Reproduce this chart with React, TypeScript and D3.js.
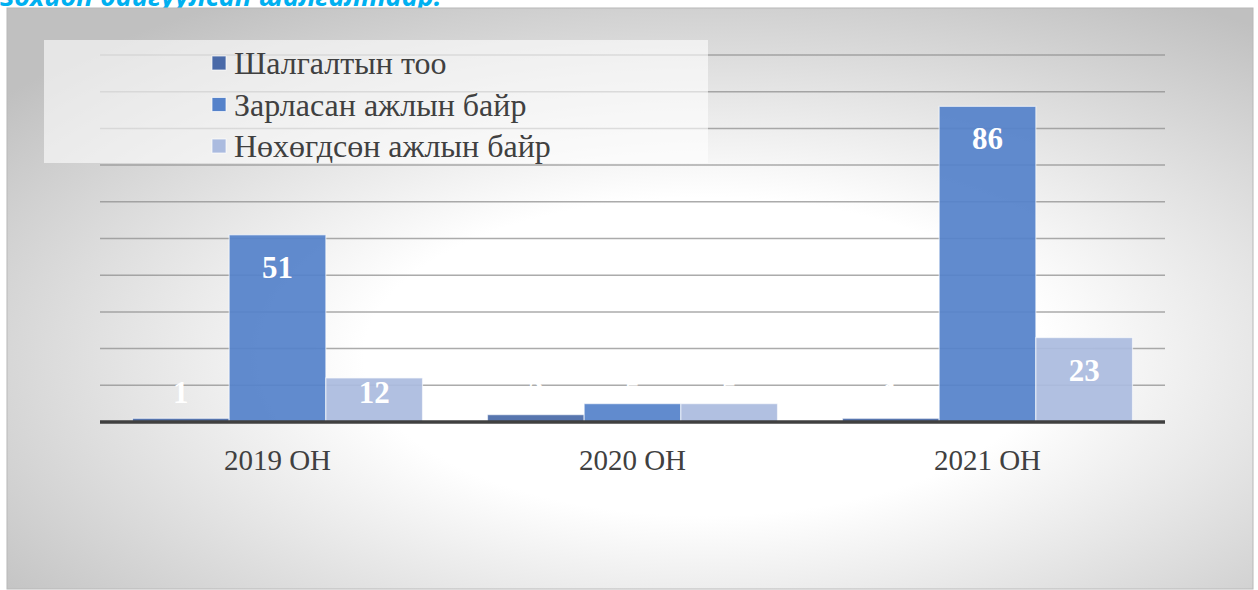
import React from "react";
import * as d3 from "d3";

const categories = ["2019 ОН", "2020 ОН", "2021 ОН"];
const seriesNames = ["Шалгалтын тоо", "Зарласан ажлын байр", "Нөхөгдсөн ажлын байр"];
const examCount = [1, 2, 1];
const announcedJobs = [51, 5, 86];
const filledJobs = [12, 5, 23];
const seriesColors = ["#4a6aa8", "#5582ca", "#abbbdf"];
const yTicks = [10, 20, 30, 40, 50, 60, 70, 80, 90, 100];
const titleText = "зохион байгуулсан шалгалтаар.";

const W = 1258;
const H = 590;

export default function App() {
  const seriesValues = [examCount, announcedJobs, filledJobs];
  const x0 = d3.scaleBand<string>().domain(categories).range([100, 1165]).paddingInner(0.183).paddingOuter(0.0915);
  const x1 = d3.scaleBand<string>().domain(seriesNames).range([0, x0.bandwidth()]).padding(0);
  const y = d3.scaleLinear().domain([0, 100]).range([422, 55]);
  const serif = "'Liberation Serif', 'Times New Roman', serif";

  return (
    <svg width={W} height={H} style={{ position: "absolute", left: 0, top: 0, background: "#fff" }}>
      <defs>
        <radialGradient id="bg" cx="0.56" cy="0.6" r="0.72">
          <stop offset="0" stopColor="#ffffff" />
          <stop offset="0.38" stopColor="#ffffff" />
          <stop offset="1" stopColor="#c0c0c0" />
        </radialGradient>
      </defs>
      <text x={0} y={6} fontFamily="'Open Sans', sans-serif" fontWeight="bold" fontStyle="italic" fontSize={27} fill="#00b0f0">
        {titleText}
      </text>
      <rect x={7} y={8} width={1246} height={581} fill="url(#bg)" stroke="#b8b8b8" strokeWidth={1} />
      {yTicks.map((t) => (
        <line key={t} x1={100} x2={1165} y1={y(t)} y2={y(t)} stroke="#8f8f8f" strokeOpacity={0.75} strokeWidth={1.5} />
      ))}
      <rect x={44} y={40} width={664} height={123} fill="#ffffff" fillOpacity={0.6} />
      {categories.map((c, ci) => (
        <g key={c}>
          {seriesNames.map((s, si) => {
            const v = seriesValues[si][ci];
            const bx = (x0(c) as number) + (x1(s) as number);
            const by = y(v);
            const bw = x1.bandwidth();
            const labelCenter = Math.min(by + 32, 392);
            return (
              <g key={s}>
                <rect x={bx} y={by} width={bw} height={y(0) - by} fill={seriesColors[si]} fillOpacity={0.93} stroke="#ffffff" strokeOpacity={0.6} strokeWidth={1.2} />
                <text x={bx + bw / 2} y={labelCenter + 11} textAnchor="middle" fontFamily={serif} fontWeight="bold" fontSize={31} fill="#ffffff">
                  {v}
                </text>
              </g>
            );
          })}
          <text x={(x0(c) as number) + x0.bandwidth() / 2} y={470} textAnchor="middle" fontFamily={serif} fontSize={29} fill="#404040">
            {c}
          </text>
        </g>
      ))}
      <line x1={100} x2={1165} y1={y(0)} y2={y(0)} stroke="#404040" strokeWidth={3.5} />
      {seriesNames.map((s, i) => (
        <g key={s} transform={`translate(212, ${63 + i * 41.5})`}>
          <rect x={0} y={-7} width={14} height={14} fill={seriesColors[i]} stroke="#ffffff" strokeOpacity={0.7} strokeWidth={1} />
          <text x={22} y={11} fontFamily={serif} fontSize={32} fill="#404040">
            {s}
          </text>
        </g>
      ))}
    </svg>
  );
}
